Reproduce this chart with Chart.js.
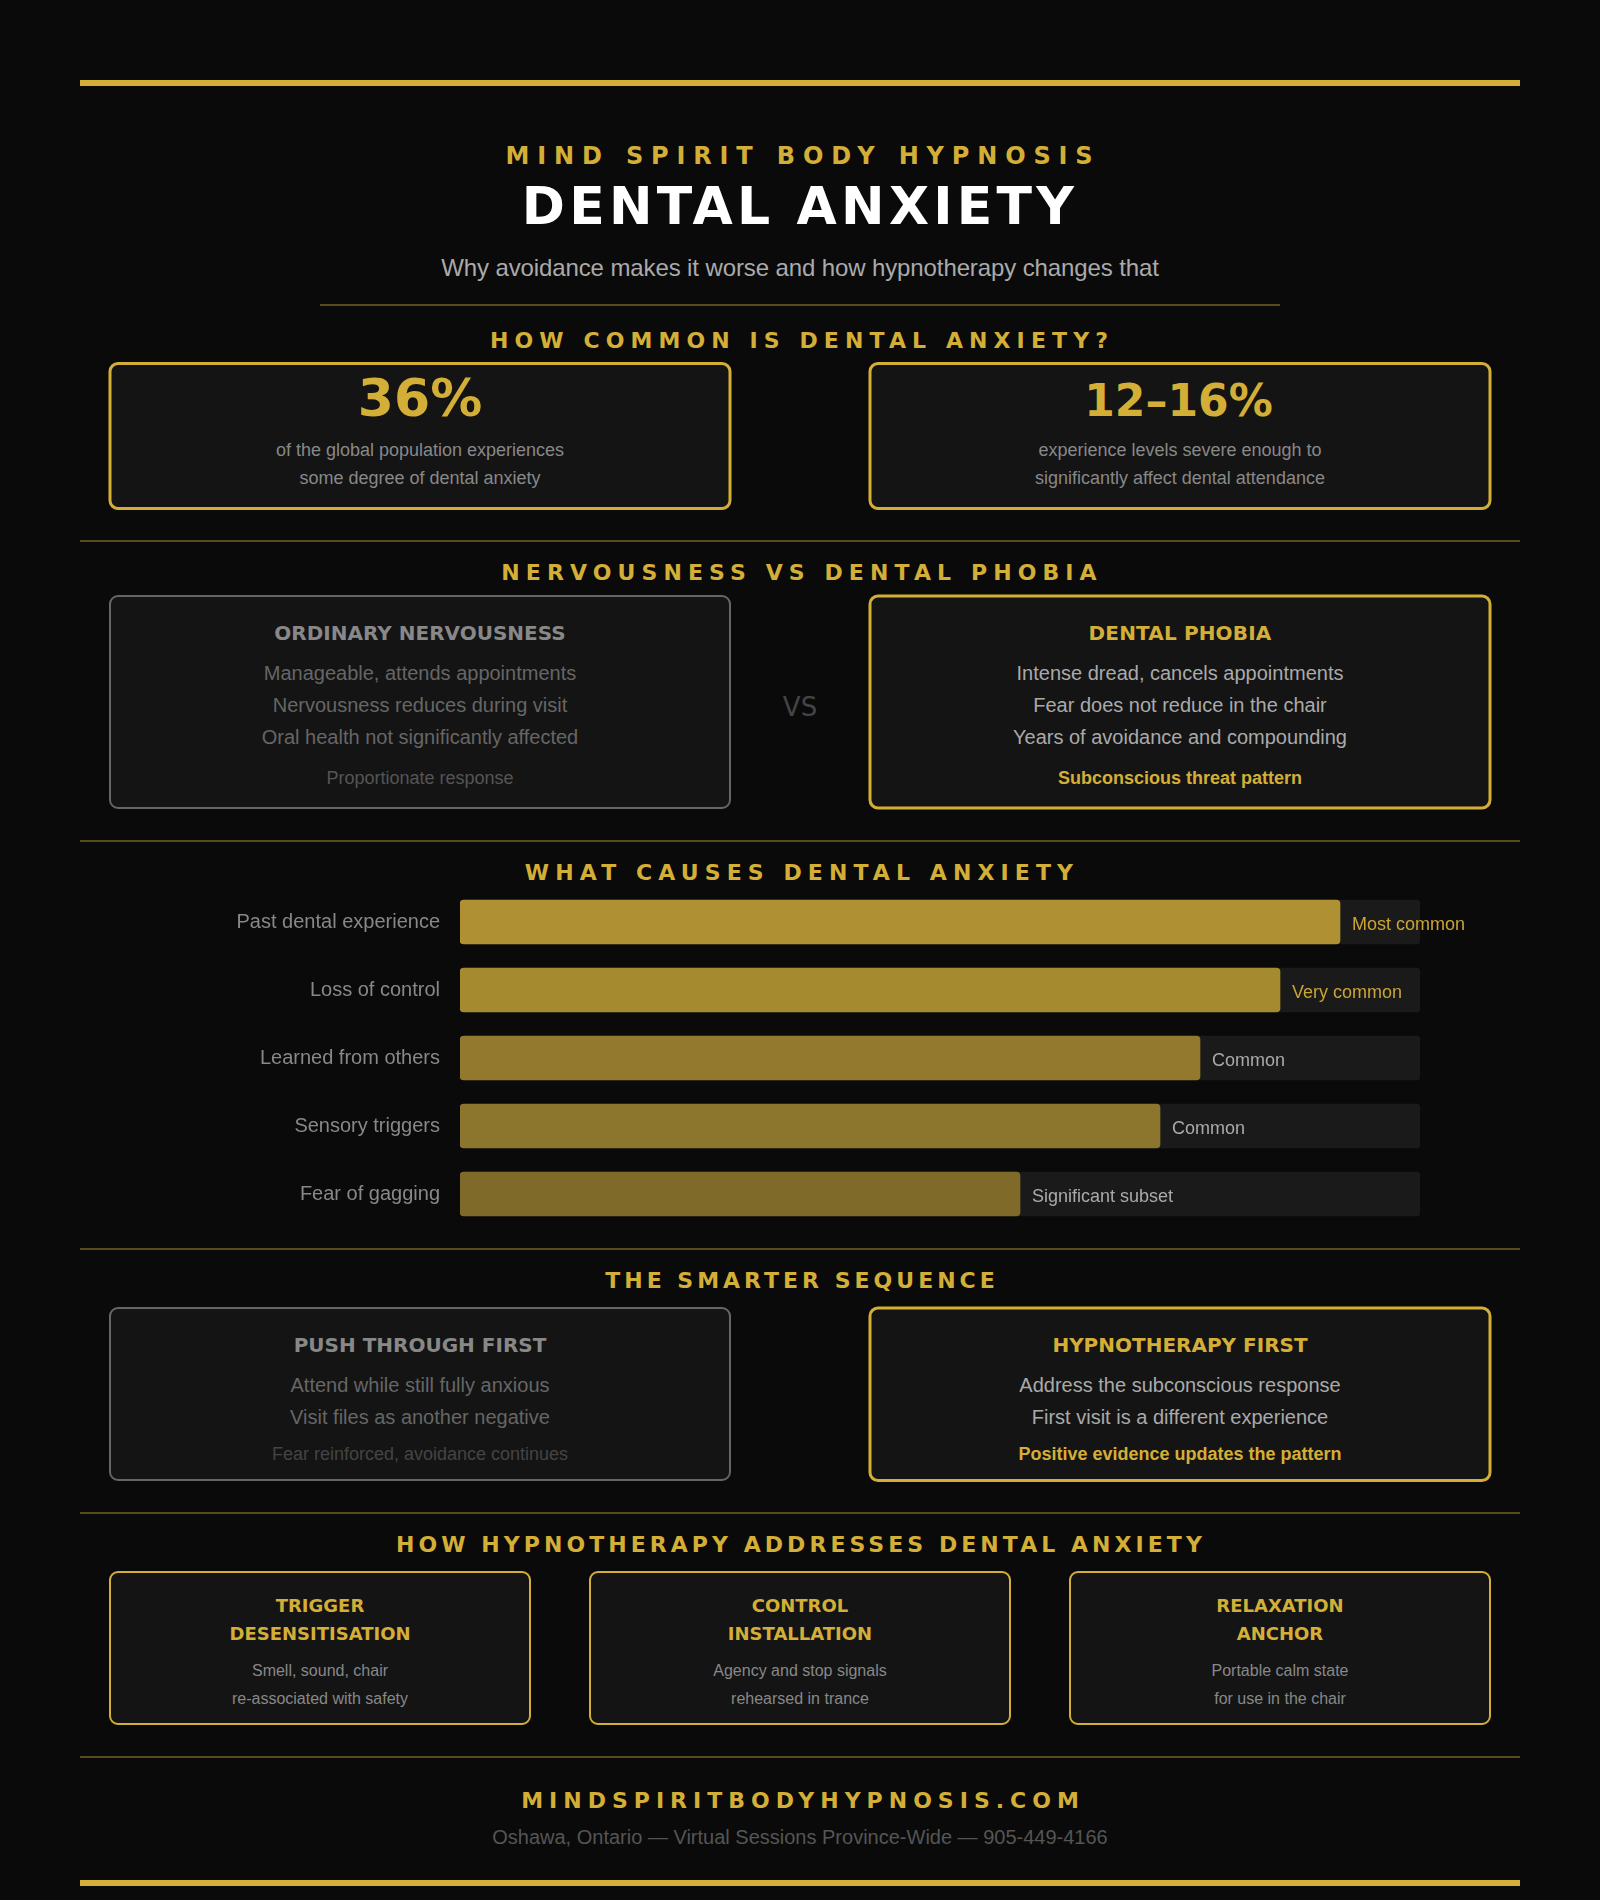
<!DOCTYPE html>
<html><head><meta charset="utf-8">
<script src="https://cdn.jsdelivr.net/npm/chart.js@4"></script>
<style>
html,body{margin:0;padding:0;background:#0a0a0a;}
#page{position:relative;width:1600px;height:1900px;background:#0a0a0a;overflow:hidden;font-family:"Liberation Sans",Arial,sans-serif;}
#chartBox{position:absolute;left:0;top:880px;width:1600px;height:360px;}
svg{position:absolute;left:0;top:0;}
.r{position:absolute;background:#5a4b1e;height:2px;}
.cg{fill:#141414;stroke:#d4af37;stroke-width:3;}
.cn{fill:#141414;stroke:#666;stroke-width:2;}
.c3{fill:#141414;stroke:#d4af37;stroke-width:2;}
.x{position:absolute;top:0;white-space:nowrap;text-align:center;line-height:0;width:1000px;margin-left:-500px;}
.x::before{content:"";display:inline-block;height:var(--y);width:0;}
.h{font-family:"DejaVu Sans",sans-serif;font-weight:700;color:#d4af37;font-size:22px;letter-spacing:6.1px;text-indent:4px;}
.big{font-family:"DejaVu Sans",sans-serif;font-weight:700;color:#d4af37;}
.desc{font-size:18px;color:#888;}
.t{font-family:"DejaVu Sans",sans-serif;font-weight:700;font-size:20px;}
.l{font-size:20px;}
.f{font-size:18px;}
.gold{color:#d4af37;}
.t3{font-family:"DejaVu Sans",sans-serif;font-weight:700;font-size:18px;color:#d4af37;}
.d3{font-size:16px;color:#888;}
</style></head>
<body><div id="page">
<svg width="1600" height="1900" xmlns="http://www.w3.org/2000/svg">
<rect class="cg" x="110" y="363.5" width="620" height="145" rx="8"/>
<rect class="cg" x="870" y="363.5" width="620" height="145" rx="8"/>
<rect class="cn" x="110" y="596" width="620" height="212" rx="8"/>
<rect class="cg" x="870" y="596" width="620" height="212" rx="8"/>
<rect class="cn" x="110" y="1308" width="620" height="172" rx="8"/>
<rect class="cg" x="870" y="1308" width="620" height="172.5" rx="8"/>
<rect class="c3" x="110" y="1572" width="420" height="152" rx="8"/>
<rect class="c3" x="590" y="1572" width="420" height="152" rx="8"/>
<rect class="c3" x="1070" y="1572" width="420" height="152" rx="8"/>
</svg>
<div class="r" style="left:80px;top:80px;width:1440px;height:6px;background:#d4af37"></div>
<div class="x h" style="left:800px;--y:164px;font-size:24px;letter-spacing:7.85px;text-indent:6px">MIND SPIRIT BODY HYPNOSIS</div>
<div class="x" style="left:800px;--y:224px;font-family:'DejaVu Sans';font-weight:700;font-size:52px;letter-spacing:4.25px;color:#fff">DENTAL ANXIETY</div>
<div class="x" style="left:800px;--y:276px;font-size:24px;letter-spacing:-0.11px;color:#aaa">Why avoidance makes it worse and how hypnotherapy changes that</div>
<div class="r" style="left:320px;top:304px;width:960px"></div>

<div class="x h" style="left:800px;--y:348px">HOW COMMON IS DENTAL ANXIETY?</div>
<div class="x big" style="left:420px;--y:416px;font-size:52px">36%</div>
<div class="x big" style="left:1178.5px;--y:416px;font-size:44px">12–16%</div>
<div class="x desc" style="left:420px;--y:456px">of the global population experiences</div>
<div class="x desc" style="left:420px;--y:484px">some degree of dental anxiety</div>
<div class="x desc" style="left:1180px;--y:456px">experience levels severe enough to</div>
<div class="x desc" style="left:1180px;--y:484px">significantly affect dental attendance</div>
<div class="r" style="left:80px;top:540px;width:1440px"></div>

<div class="x h" style="left:800px;--y:580px">NERVOUSNESS VS DENTAL PHOBIA</div>
<div class="x t" style="left:420px;--y:640px;color:#888">ORDINARY NERVOUSNESS</div>
<div class="x l" style="left:420px;--y:680px;color:#666">Manageable, attends appointments</div>
<div class="x l" style="left:420px;--y:712px;color:#666">Nervousness reduces during visit</div>
<div class="x l" style="left:420px;--y:744px;color:#666">Oral health not significantly affected</div>
<div class="x f" style="left:420px;--y:784px;color:#555">Proportionate response</div>
<div class="x" style="left:800px;--y:716px;font-family:'DejaVu Sans';font-size:26px;color:#444">VS</div>
<div class="x t gold" style="left:1180px;--y:640px;letter-spacing:0.15px">DENTAL PHOBIA</div>
<div class="x l" style="left:1180px;--y:680px;color:#aaa">Intense dread, cancels appointments</div>
<div class="x l" style="left:1180px;--y:712px;color:#aaa">Fear does not reduce in the chair</div>
<div class="x l" style="left:1180px;--y:744px;color:#aaa">Years of avoidance and compounding</div>
<div class="x f gold" style="left:1180px;--y:784px;font-weight:700">Subconscious threat pattern</div>
<div class="r" style="left:80px;top:840px;width:1440px"></div>

<div class="x h" style="left:800px;--y:880px">WHAT CAUSES DENTAL ANXIETY</div>
<div class="r" style="left:80px;top:1248px;width:1440px"></div>

<div class="x h" style="left:800px;--y:1288px;letter-spacing:4px;text-indent:4px">THE SMARTER SEQUENCE</div>
<div class="x t" style="left:420px;--y:1352px;color:#888">PUSH THROUGH FIRST</div>
<div class="x l" style="left:420px;--y:1392px;color:#666">Attend while still fully anxious</div>
<div class="x l" style="left:420px;--y:1424px;color:#666">Visit files as another negative</div>
<div class="x f" style="left:420px;--y:1460px;color:#444">Fear reinforced, avoidance continues</div>
<div class="x t gold" style="left:1180px;--y:1352px">HYPNOTHERAPY FIRST</div>
<div class="x l" style="left:1180px;--y:1392px;color:#aaa">Address the subconscious response</div>
<div class="x l" style="left:1180px;--y:1424px;color:#aaa">First visit is a different experience</div>
<div class="x f gold" style="left:1180px;--y:1460px;font-weight:700">Positive evidence updates the pattern</div>
<div class="r" style="left:80px;top:1512px;width:1440px"></div>

<div class="x h" style="left:800px;--y:1552px;letter-spacing:4.05px;text-indent:2px">HOW HYPNOTHERAPY ADDRESSES DENTAL ANXIETY</div>
<div class="x t3" style="left:320px;--y:1612px">TRIGGER</div>
<div class="x t3" style="left:320px;--y:1640px">DESENSITISATION</div>
<div class="x d3" style="left:320px;--y:1676px">Smell, sound, chair</div>
<div class="x d3" style="left:320px;--y:1704px">re-associated with safety</div>
<div class="x t3" style="left:800px;--y:1612px">CONTROL</div>
<div class="x t3" style="left:800px;--y:1640px">INSTALLATION</div>
<div class="x d3" style="left:800px;--y:1676px">Agency and stop signals</div>
<div class="x d3" style="left:800px;--y:1704px">rehearsed in trance</div>
<div class="x t3" style="left:1280px;--y:1612px">RELAXATION</div>
<div class="x t3" style="left:1280px;--y:1640px">ANCHOR</div>
<div class="x d3" style="left:1280px;--y:1676px">Portable calm state</div>
<div class="x d3" style="left:1280px;--y:1704px">for use in the chair</div>
<div class="r" style="left:80px;top:1756px;width:1440px"></div>

<div class="x h" style="left:800px;--y:1808px;letter-spacing:6px;text-indent:6px">MINDSPIRITBODYHYPNOSIS.COM</div>
<div class="x" style="left:800px;--y:1844px;font-size:20px;color:#555">Oshawa, Ontario — Virtual Sessions Province-Wide — 905-449-4166</div>
<div class="r" style="left:80px;top:1880px;width:1440px;height:6px;background:#d4af37"></div>
<div id="chartBox"><canvas id="causes" width="1600" height="360"></canvas></div>
</div>
<script>
const categories = ["Past dental experience","Loss of control","Learned from others","Sensory triggers","Fear of gagging"];
const values = [880,820,740,700,560];
const trackValues = [960,960,960,960,960];
const tags = ["Most common","Very common","Common","Common","Significant subset"];
const barColors = ["#af9032","#a58a30","#93792d","#8c752c","#806a2a"];
const tagColors = ["#c9a535","#c9a535","#aaaaaa","#aaaaaa","#aaaaaa"];

const tagPlugin = {
  id:"tagPlugin",
  afterDatasetsDraw(chart){
    const ctx = chart.ctx;
    const bars = chart.getDatasetMeta(1).data;
    ctx.save();
    ctx.font = '18px "Liberation Sans"';
    ctx.textAlign = "left";
    ctx.textBaseline = "alphabetic";
    bars.forEach((b,i)=>{
      ctx.fillStyle = tagColors[i];
      ctx.fillText(tags[i], b.x+12, b.y+8);
    });
    ctx.restore();
  }
};

new Chart(document.getElementById("causes"),{
  type:"bar",
  data:{labels:categories,datasets:[
    {data:trackValues,backgroundColor:"#1a1a1a",grouped:false,order:2,borderRadius:4,borderSkipped:false,barThickness:44},
    {data:values,backgroundColor:barColors,grouped:false,order:1,borderRadius:4,borderSkipped:false,barThickness:44}
  ]},
  options:{
    indexAxis:"y",responsive:false,animation:false,devicePixelRatio:1,
    layout:{padding:{left:0,right:180,top:8,bottom:12}},
    plugins:{legend:{display:false},tooltip:{enabled:false}},
    scales:{
      x:{display:false,min:0,max:960},
      y:{
        afterFit(s){s.width=460;s.paddingTop=0;s.paddingBottom=0;},
        grid:{display:false,drawTicks:false},border:{display:false},
        ticks:{color:"#888888",padding:20,font:{family:"Liberation Sans",size:20}}
      }
    }
  },
  plugins:[tagPlugin]
});
</script>
</body></html>
